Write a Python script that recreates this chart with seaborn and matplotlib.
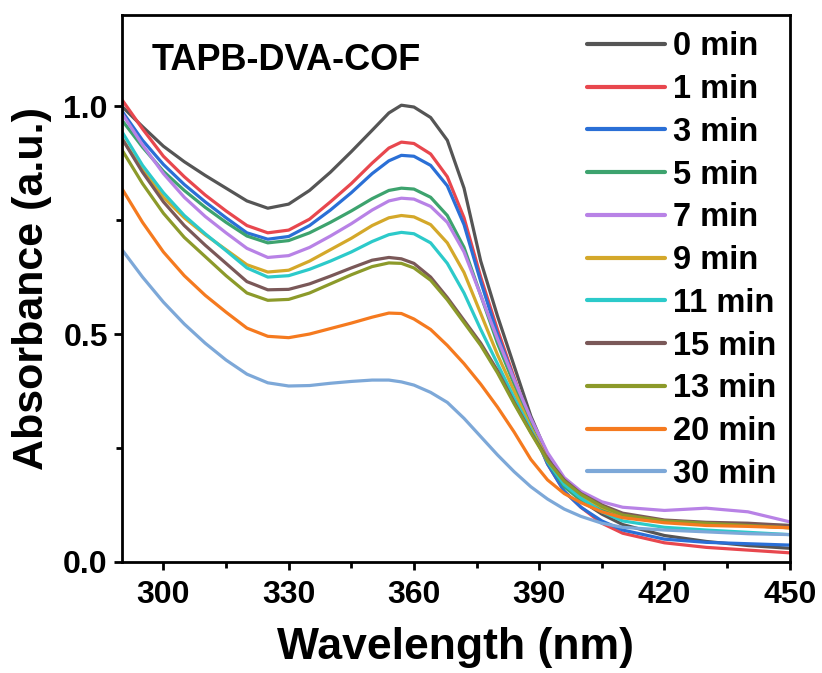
import pandas as pd
import matplotlib
matplotlib.use("Agg")
import matplotlib.pyplot as plt
import seaborn as sns
from matplotlib.ticker import MultipleLocator

# wavelength grid (nm)
wavelength = [290, 295, 300, 305, 310, 315, 320, 325, 330, 335, 340, 345, 350, 354, 357, 360,
              364, 368, 372, 376, 380, 384, 388, 392, 396, 400, 405, 410, 420, 430, 440, 450]

# absorbance, one list per irradiation time
abs_0 = [1.0, 0.955, 0.912, 0.878, 0.848, 0.82, 0.792, 0.776, 0.785, 0.815, 0.855, 0.9, 0.947,
         0.985, 1.002, 0.998, 0.975, 0.925, 0.82, 0.66, 0.54, 0.43, 0.32, 0.235, 0.172, 0.135,
         0.105, 0.082, 0.058, 0.045, 0.036, 0.03]
abs_1 = [1.015, 0.95, 0.89, 0.845, 0.805, 0.77, 0.738, 0.722, 0.728, 0.752, 0.79, 0.83, 0.875,
         0.908, 0.921, 0.918, 0.895, 0.845, 0.755, 0.625, 0.51, 0.405, 0.30, 0.215, 0.155, 0.12,
         0.085, 0.063, 0.042, 0.032, 0.026, 0.02]
abs_3 = [0.99, 0.925, 0.872, 0.828, 0.79, 0.755, 0.722, 0.708, 0.714, 0.738, 0.772, 0.81, 0.852,
         0.88, 0.892, 0.89, 0.87, 0.825, 0.74, 0.615, 0.50, 0.40, 0.30, 0.215, 0.155, 0.12,
         0.09, 0.07, 0.05, 0.043, 0.04, 0.037]
abs_5 = [0.97, 0.91, 0.857, 0.815, 0.778, 0.745, 0.715, 0.70, 0.705, 0.722, 0.745, 0.77, 0.797,
         0.815, 0.82, 0.818, 0.80, 0.76, 0.69, 0.585, 0.48, 0.39, 0.30, 0.22, 0.165, 0.135,
         0.115, 0.103, 0.09, 0.084, 0.081, 0.08]
abs_7 = [0.985, 0.915, 0.852, 0.80, 0.758, 0.722, 0.688, 0.668, 0.672, 0.69, 0.715, 0.742, 0.772,
         0.792, 0.798, 0.796, 0.78, 0.745, 0.68, 0.585, 0.49, 0.40, 0.315, 0.24, 0.185, 0.155,
         0.132, 0.12, 0.113, 0.118, 0.11, 0.088]
abs_9 = [0.93, 0.86, 0.80, 0.755, 0.718, 0.685, 0.652, 0.636, 0.64, 0.66, 0.685, 0.71, 0.738,
         0.755, 0.76, 0.757, 0.74, 0.70, 0.635, 0.545, 0.455, 0.375, 0.295, 0.225, 0.175, 0.145,
         0.12, 0.103, 0.09, 0.085, 0.08, 0.075]
abs_11 = [0.945, 0.87, 0.81, 0.76, 0.72, 0.683, 0.645, 0.625, 0.628, 0.642, 0.66, 0.68, 0.703,
          0.718, 0.723, 0.72, 0.70, 0.655, 0.59, 0.51, 0.435, 0.36, 0.29, 0.22, 0.17, 0.14,
          0.11, 0.09, 0.076, 0.07, 0.065, 0.06]
abs_15 = [0.93, 0.855, 0.79, 0.738, 0.695, 0.655, 0.615, 0.597, 0.598, 0.61, 0.627, 0.645, 0.662,
          0.668, 0.665, 0.655, 0.625, 0.58, 0.53, 0.48, 0.42, 0.35, 0.285, 0.225, 0.18, 0.15,
          0.125, 0.107, 0.092, 0.087, 0.085, 0.08]
abs_13 = [0.905, 0.83, 0.765, 0.712, 0.67, 0.628, 0.59, 0.574, 0.576, 0.59, 0.61, 0.63, 0.648,
          0.656, 0.655, 0.645, 0.618, 0.575, 0.525, 0.475, 0.415, 0.347, 0.283, 0.222, 0.177,
          0.148, 0.122, 0.103, 0.09, 0.085, 0.08, 0.075]
abs_20 = [0.82, 0.745, 0.68, 0.628, 0.585, 0.548, 0.513, 0.495, 0.492, 0.50, 0.512, 0.524, 0.537,
          0.546, 0.545, 0.533, 0.51, 0.475, 0.435, 0.39, 0.34, 0.285, 0.225, 0.18, 0.15, 0.13,
          0.11, 0.097, 0.086, 0.08, 0.078, 0.075]
abs_30 = [0.686, 0.625, 0.57, 0.522, 0.48, 0.443, 0.412, 0.393, 0.386, 0.387, 0.392, 0.396, 0.399,
          0.399, 0.395, 0.388, 0.372, 0.35, 0.315, 0.275, 0.235, 0.198, 0.165, 0.138, 0.116, 0.1,
          0.085, 0.076, 0.07, 0.066, 0.062, 0.06]

labels = ["0 min", "1 min", "3 min", "5 min", "7 min", "9 min", "11 min",
          "15 min", "13 min", "20 min", "30 min"]
series = [abs_0, abs_1, abs_3, abs_5, abs_7, abs_9, abs_11, abs_15, abs_13, abs_20, abs_30]
colors = ["#555555", "#e8474e", "#2a6fd6", "#3da36e", "#b882e6", "#d4a82a",
          "#2ccaca", "#7a5858", "#8c9a2a", "#f57a1f", "#7da8d8"]

df = pd.concat([pd.DataFrame({"wl": wavelength, "A": s, "t": lab})
                for s, lab in zip(series, labels)], ignore_index=True)

sns.set_style("ticks")
plt.rcParams["font.family"] = ["Liberation Sans", "DejaVu Sans"]
plt.rcParams["font.weight"] = "bold"
for key in ["text.color", "axes.labelcolor", "xtick.color", "ytick.color", "axes.edgecolor"]:
    plt.rcParams[key] = "black"

fig = plt.figure(figsize=(8.22, 6.73), dpi=100)
ax = fig.add_axes([0.148, 0.165, 0.8127, 0.8128])

sns.lineplot(data=df, x="wl", y="A", hue="t", hue_order=labels, palette=colors,
             linewidth=2.3, ax=ax, legend=True)

ax.set_xlim(290, 450)
ax.set_ylim(0, 1.2)
ax.xaxis.set_major_locator(MultipleLocator(30))
ax.xaxis.set_minor_locator(MultipleLocator(15))
ax.yaxis.set_minor_locator(MultipleLocator(0.25))
ax.set_yticks([0.0, 0.5, 1.0])
ax.set_yticklabels(["0.0", "0.5", "1.0"])

for sp in ax.spines.values():
    sp.set_visible(True)
    sp.set_linewidth(2.0)
ax.tick_params(which="major", direction="out", length=6, width=2.0, labelsize=23)
ax.tick_params(axis="x", which="major", pad=7)
ax.tick_params(axis="y", which="major", pad=4)
ax.tick_params(which="minor", direction="out", length=4, width=2.0)
for lab in ax.get_xticklabels() + ax.get_yticklabels():
    lab.set_fontweight("bold")

ax.set_xlabel("Wavelength (nm)", fontsize=32, fontweight="bold", labelpad=12)
ax.set_ylabel("Absorbance (a.u.)", fontsize=31, fontweight="bold", labelpad=8)

ax.text(0.045, 0.90, "TAPB-DVA-COF", transform=ax.transAxes, fontsize=26,
        fontweight="bold")

handles, _ = ax.get_legend_handles_labels()
leg = ax.legend(handles, labels, loc="upper right", frameon=False,
                prop={"weight": "bold", "size": 23.5},
                handlelength=2.4, handletextpad=0.25, labelspacing=0.36,
                borderaxespad=0.0, borderpad=0.2, bbox_to_anchor=(0.99, 0.982))
for line in leg.get_lines():
    line.set_linewidth(3)

fig.savefig("out.png", dpi=100)
